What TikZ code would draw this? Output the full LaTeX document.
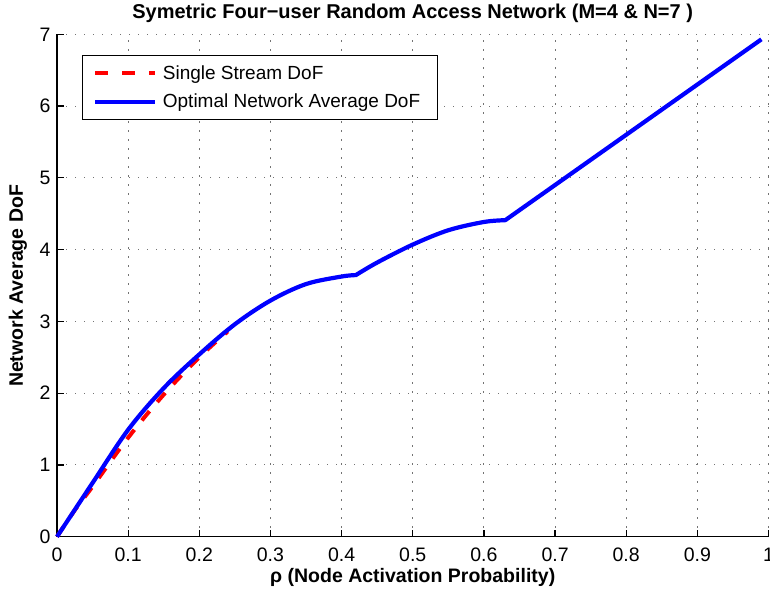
\documentclass[tikz,border=0pt]{standalone}
\usepackage{fontspec}
\setmainfont{Liberation Sans}
\begin{document}
\begin{tikzpicture}[x=1pt,y=-1pt,
  font=\fontsize{19.5}{22}\selectfont,
  gridline/.style={black!55,line width=1.1pt,dash pattern=on 1.4pt off 7.6pt},
  axisline/.style={black,line width=1.2pt},
  tickmark/.style={black,line width=1.2pt},
  bluecurve/.style={blue,line width=4.2pt,line join=round},
  redcurve/.style={red,line width=4pt,dash pattern=on 12pt off 12pt},
  ticklab/.style={inner sep=0pt},
  legtext/.style={inner sep=0pt,font=\fontsize{19}{22}\selectfont},
  boldlab/.style={inner sep=0pt,font=\fontsize{19.5}{22}\selectfont\bfseries}]
\useasboundingbox (0,0) rectangle (770,593);
\begin{scope}[xshift=57pt,yshift=-536.7pt,x=711.5pt,y=71.77pt]
  % grid
  \foreach \i in {1,...,10} \draw[gridline] (\i/10,0) -- (\i/10,7);
  \foreach \j in {1,...,7} \draw[gridline] (0,\j) -- (1,\j);
  % axes
  \coordinate (O) at (0,0);
  \coordinate (XE) at (1,0);
  \coordinate (YE) at (0,7);
  \draw[axisline] (YE) -- (O) -- (XE);
  % ticks and labels
  \foreach \i/\t in {0/0,1/0.1,2/0.2,3/0.3,4/0.4,5/0.5,6/0.6,7/0.7,8/0.8,9/0.9,10/1}{
    \draw[tickmark] (\i/10,0) -- ++(0,7pt);
    \node[ticklab,anchor=base] (xt\i) at ([yshift=-25pt]\i/10,0) {\t};
  }
  \foreach \j in {0,...,7}{
    \draw[tickmark] (0,\j) -- ++(7pt,0);
    \node[ticklab,anchor=east] (yt\j) at ([xshift=-6.3pt]0,\j) {\j};
  }
  % red dashed (single stream)
  \draw[redcurve] plot[smooth,tension=0.6] coordinates
    {(0,0) (0.025,0.37) (0.05,0.70) (0.1,1.38) (0.15,1.98) (0.2,2.50) (0.24,2.86)};
  % blue curve
  \draw[bluecurve] plot[smooth,tension=0.55] coordinates
    {(0,0) (0.05,0.75) (0.1,1.49) (0.15,2.07) (0.2,2.54) (0.25,2.96) (0.3,3.29) (0.35,3.52) (0.4,3.625) (0.42,3.645)}
    -- plot[smooth,tension=0.55] coordinates
    {(0.42,3.645) (0.45,3.82) (0.5,4.07) (0.55,4.27) (0.6,4.385) (0.63,4.41)}
    -- (0.99,6.93);
\end{scope}
% legend
\node[draw,fill=white,line width=1pt,minimum width=355pt,minimum height=64pt,anchor=north west,inner sep=0pt] (legend) at (82.3,55) {};
\coordinate (l1a) at (95,73.3);
\coordinate (l1b) at (155,73.3);
\coordinate (l2a) at (95,101.7);
\coordinate (l2b) at (155,101.7);
\draw[red,line width=4pt,dash pattern=on 13pt off 14pt] (l1a) -- (l1b);
\draw[blue,line width=4pt] (l2a) -- (l2b);
\node[legtext,anchor=base west] (lt1) at (162.7,80) {Single Stream DoF};
\node[legtext,anchor=base west] (lt2) at (162.7,108) {Optimal Network Average DoF};
% title and axis labels
\node[boldlab,anchor=base,font=\fontsize{20}{22}\selectfont\bfseries] (title) at (412.7,18.5) {Symetric Four−user Random Access Network (M=4 \& N=7 )};
\node[boldlab,anchor=base] (xlabel) at (412.7,582) {ρ (Node Activation Probability)};
\node[boldlab,rotate=90,anchor=center] (ylabel) at (18,286) {Network Average DoF};
\end{tikzpicture}
\end{document}
